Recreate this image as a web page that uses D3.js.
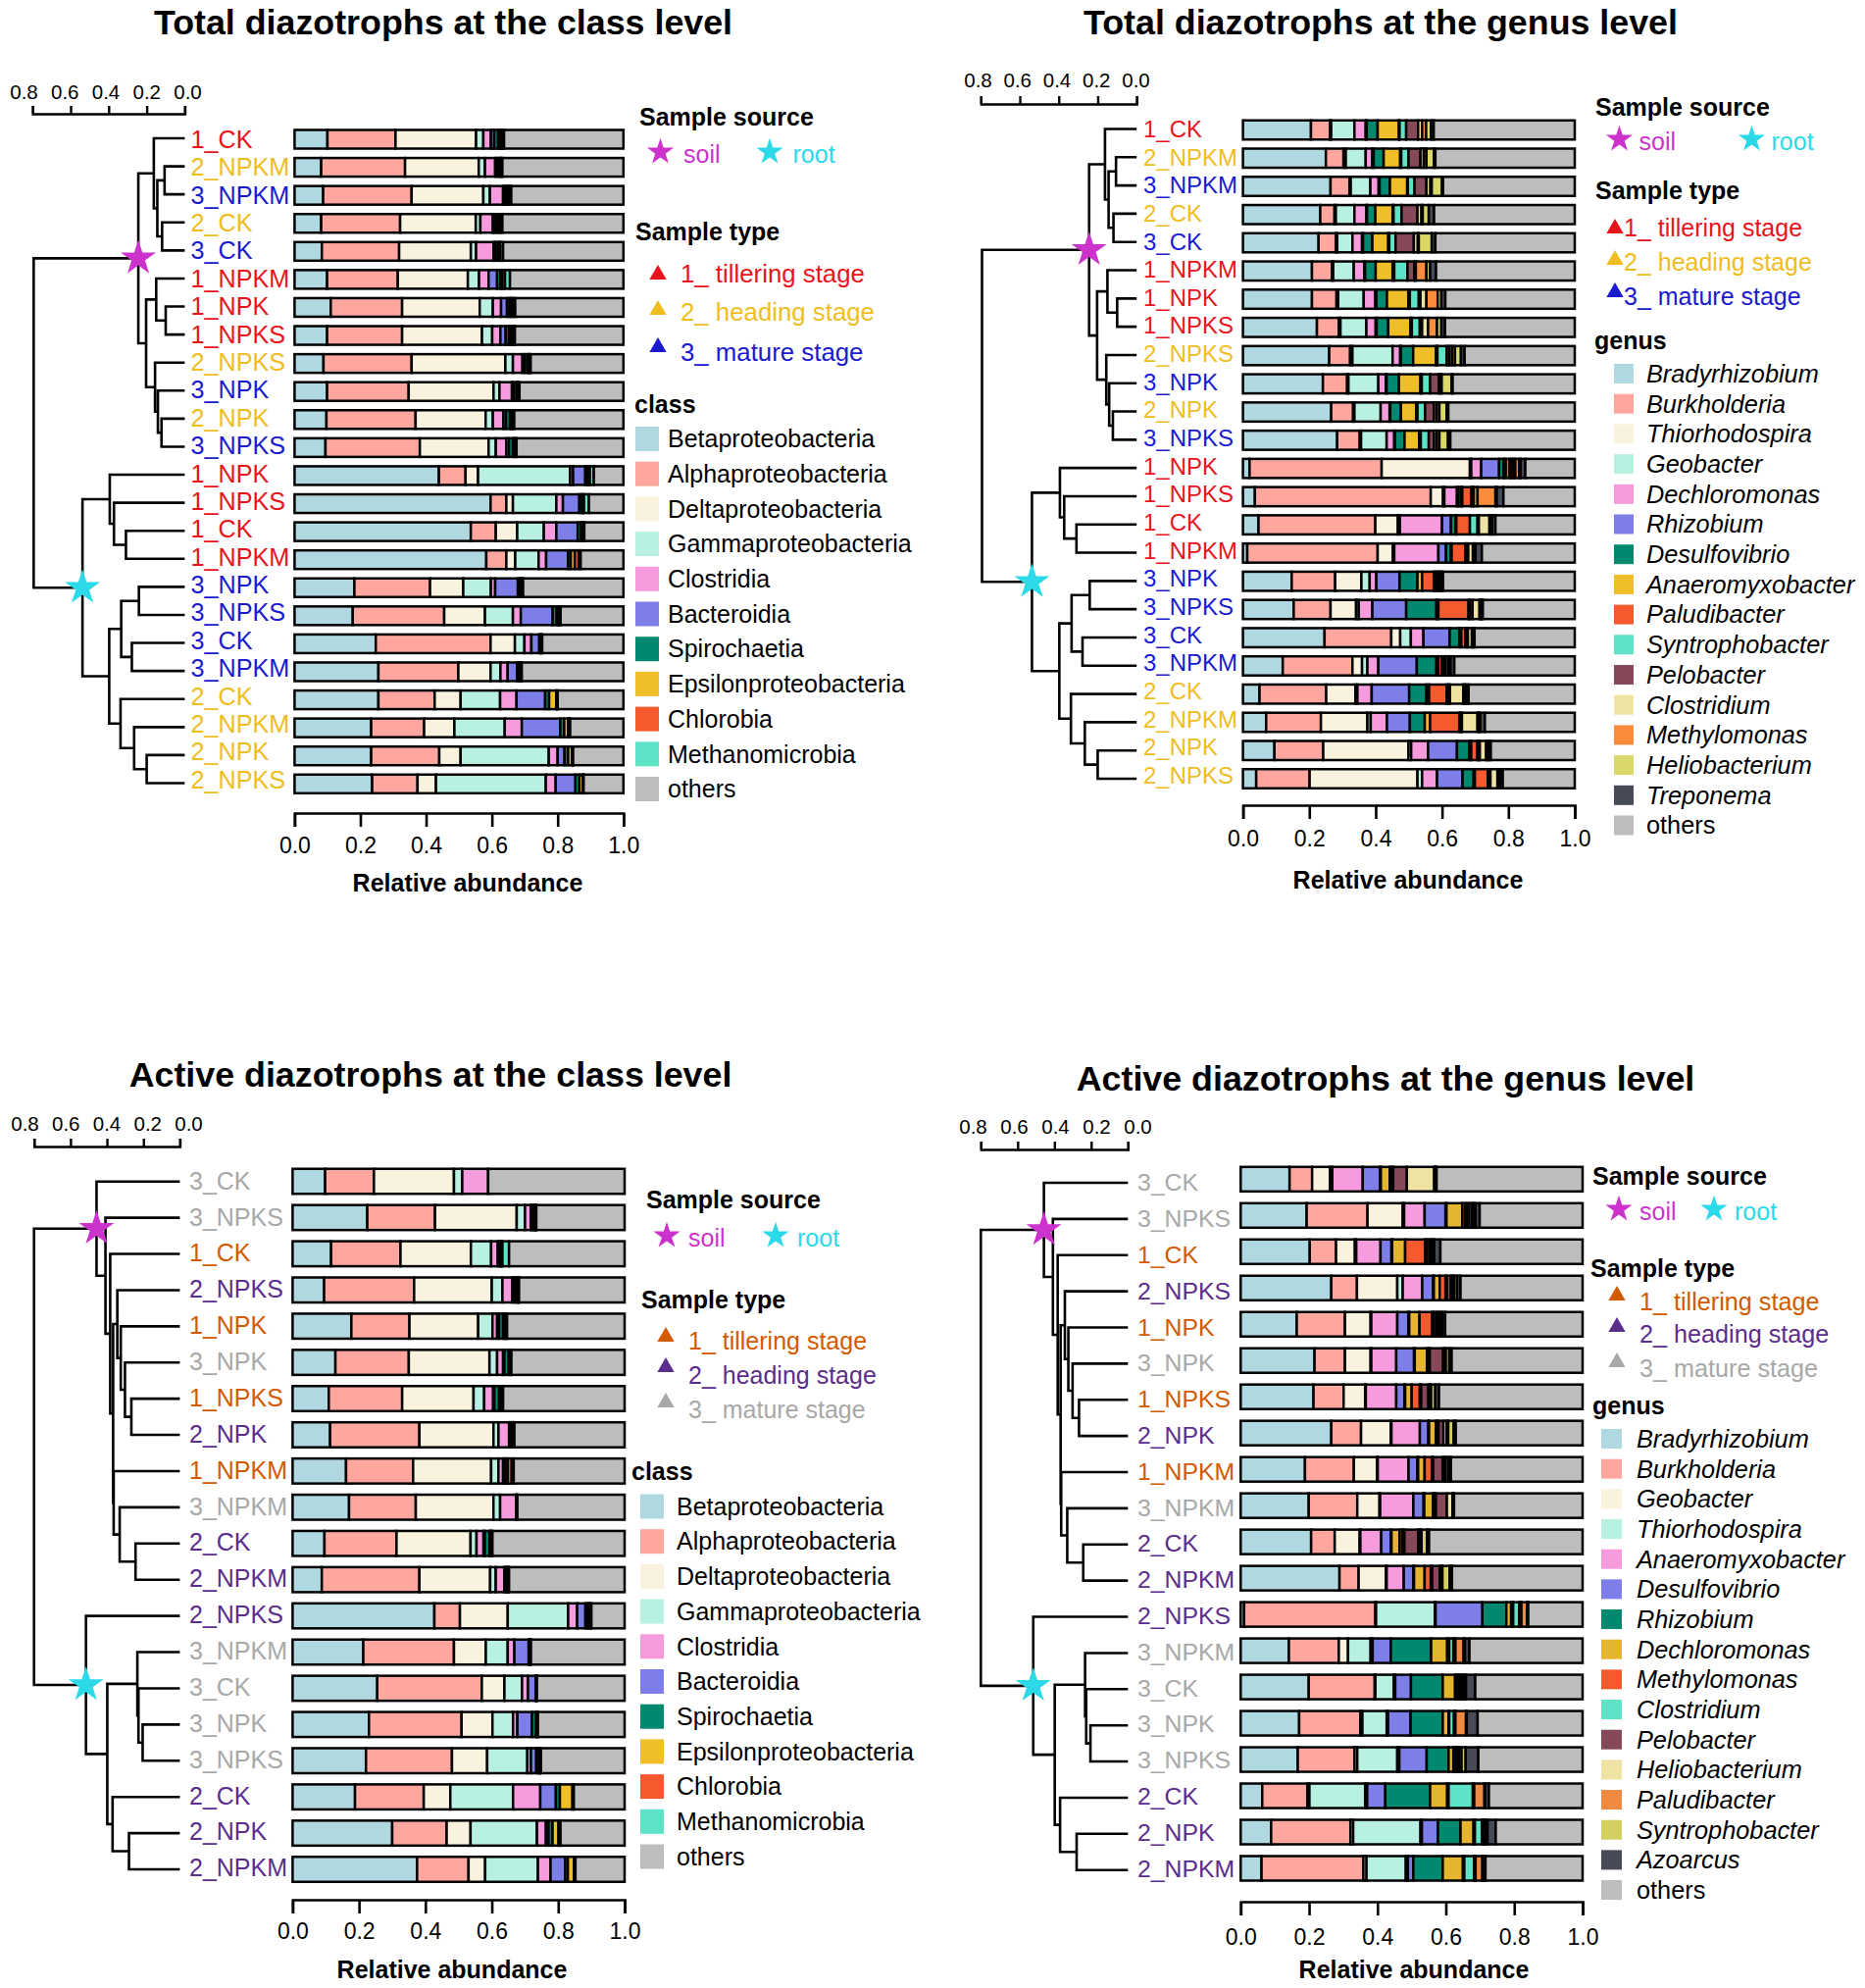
<!DOCTYPE html>
<html>
<head>
<meta charset="utf-8">
<script src="https://cdn.jsdelivr.net/npm/d3@7"></script>
<style>
  html, body { margin: 0; padding: 0; background: #fff; }
  text { font-family: "Liberation Sans", Arial, sans-serif; fill: #000; }
</style>
</head>
<body>
<svg id="chart" width="1902" height="2027"></svg>
<script>
// sample order, top to bottom
const totalSamples = ["1_CK","2_NPKM","3_NPKM","2_CK","3_CK","1_NPKM","1_NPK","1_NPKS","2_NPKS","3_NPK","2_NPK","3_NPKS",
  "1_NPK","1_NPKS","1_CK","1_NPKM","3_NPK","3_NPKS","3_CK","3_NPKM","2_CK","2_NPKM","2_NPK","2_NPKS"];
const activeSamples = ["3_CK","3_NPKS","1_CK","2_NPKS","1_NPK","3_NPK","1_NPKS","2_NPK","1_NPKM","3_NPKM","2_CK","2_NPKM",
  "2_NPKS","3_NPKM","3_CK","3_NPK","3_NPKS","2_CK","2_NPK","2_NPKM"];

const classNames = ["Betaproteobacteria","Alphaproteobacteria","Deltaproteobacteria","Gammaproteobacteria","Clostridia","Bacteroidia",
  "Spirochaetia","Epsilonproteobacteria","Chlorobia","Methanomicrobia","others"];
const totalGenusNames = ["Bradyrhizobium","Burkholderia","Thiorhodospira","Geobacter","Dechloromonas","Rhizobium","Desulfovibrio",
  "Anaeromyxobacter","Paludibacter","Syntrophobacter","Pelobacter","Clostridium","Methylomonas","Heliobacterium","Treponema","others"];
const activeGenusNames = ["Bradyrhizobium","Burkholderia","Geobacter","Thiorhodospira","Anaeromyxobacter","Desulfovibrio","Rhizobium",
  "Dechloromonas","Methylomonas","Clostridium","Pelobacter","Heliobacterium","Paludibacter","Syntrophobacter","Azoarcus","others"];

const classColors = ["#b0d8e0","#ffa69e","#f8f2de","#b8f0e2","#f59bde","#7e7ee8","#00896f","#f0be28","#f55a2f","#5ee3c7","#bdbdbd"];
const totalGenusColors = ["#b0d8e0","#ffa69e","#f8f2de","#b8f0e2","#f59bde","#7e7ee8","#00896f","#f0be28","#f55a2f","#5ee3c7",
  "#85495a","#efe3a4","#fa8c3c","#d9d868","#474b57","#bdbdbd"];
const activeGenusColors = ["#b0d8e0","#ffa69e","#f8f2de","#b8f0e2","#f59bde","#7e7ee8","#00896f","#e5b52f","#f55a2f","#5ee3c7",
  "#85495a","#efe3a4","#f08a42","#d2d060","#474b57","#bdbdbd"];

// one row per sample, one value per class / genus
const totalClassValues = [
  [.100,.207,.245,.022,.023,.010,.012,.006,.006,.006,.363],
  [.081,.255,.224,.019,.031,.006,.007,.003,.003,.003,.368],
  [.087,.269,.218,.020,.040,.006,.006,.005,.004,.004,.341],
  [.081,.240,.230,.014,.038,.006,.008,.005,.005,.005,.368],
  [.083,.235,.218,.016,.053,.005,.008,.004,.004,.008,.366],
  [.099,.215,.213,.034,.029,.026,.010,.006,.008,.015,.345],
  [.110,.217,.236,.040,.025,.018,.008,.005,.006,.006,.329],
  [.099,.228,.243,.031,.025,.016,.010,.005,.007,.006,.330],
  [.088,.268,.285,.023,.029,.007,.008,.004,.003,.003,.282],
  [.099,.248,.258,.018,.038,.006,.008,.003,.003,.003,.316],
  [.097,.271,.213,.022,.032,.008,.012,.005,.004,.004,.332],
  [.094,.287,.209,.022,.032,.008,.012,.004,.004,.003,.325],
  [.439,.081,.038,.280,.009,.037,.006,.004,.004,.012,.090],
  [.596,.048,.020,.132,.020,.050,.008,.003,.003,.015,.105],
  [.536,.076,.065,.081,.038,.065,.010,.004,.003,.003,.119],
  [.583,.061,.027,.071,.023,.067,.008,.012,.012,.006,.130],
  [.182,.230,.101,.084,.013,.069,.006,.004,.003,.003,.305],
  [.177,.278,.124,.085,.024,.097,.012,.006,.003,.003,.191],
  [.247,.349,.074,.029,.021,.024,.003,.002,.002,.002,.247],
  [.255,.243,.098,.030,.022,.029,.006,.003,.003,.002,.309],
  [.255,.171,.079,.120,.050,.087,.012,.022,.002,.002,.200],
  [.233,.161,.092,.153,.052,.117,.012,.012,.003,.003,.162],
  [.233,.207,.065,.268,.027,.021,.011,.012,.002,.001,.153],
  [.236,.138,.056,.334,.030,.060,.012,.010,.002,.001,.121]
];
const totalGenusValues = [
  [.205,.057,.004,.070,.034,.003,.033,.064,.002,.020,.036,.012,.012,.015,.008,.425],
  [.250,.053,.007,.060,.020,.004,.030,.050,.003,.022,.036,.010,.008,.023,.004,.420],
  [.264,.057,.004,.059,.025,.003,.031,.052,.002,.020,.036,.012,.004,.031,.003,.397],
  [.233,.043,.004,.056,.036,.002,.025,.052,.003,.024,.048,.012,.004,.018,.016,.424],
  [.228,.052,.004,.046,.029,.003,.028,.048,.003,.019,.055,.012,.003,.039,.011,.420],
  [.208,.060,.004,.062,.032,.002,.032,.051,.005,.040,.021,.004,.032,.011,.018,.418],
  [.208,.074,.005,.077,.035,.003,.032,.065,.004,.027,.005,.018,.034,.011,.012,.390],
  [.223,.066,.005,.078,.028,.003,.035,.067,.004,.024,.007,.018,.027,.013,.011,.391],
  [.260,.063,.007,.121,.023,.002,.037,.069,.004,.028,.008,.008,.009,.018,.011,.332],
  [.241,.073,.004,.090,.023,.002,.037,.065,.004,.025,.027,.004,.004,.030,.003,.368],
  [.266,.066,.004,.079,.027,.002,.032,.046,.004,.023,.027,.008,.008,.022,.005,.381],
  [.284,.068,.004,.077,.023,.002,.029,.044,.005,.024,.016,.008,.008,.026,.007,.375],
  [.020,.398,.266,.004,.030,.054,.014,.006,.012,.005,.006,.006,.012,.004,.014,.149],
  [.036,.530,.037,.004,.038,.004,.008,.004,.027,.004,.004,.011,.054,.004,.020,.215],
  [.047,.352,.068,.006,.127,.027,.014,.002,.041,.023,.004,.032,.004,.004,.010,.239],
  [.013,.393,.046,.004,.133,.023,.015,.002,.041,.003,.006,.014,.004,.004,.019,.280],
  [.147,.131,.079,.025,.020,.070,.054,.014,.036,.004,.006,.004,.004,.004,.005,.397],
  [.153,.111,.077,.008,.041,.102,.091,.006,.091,.004,.008,.021,.003,.003,.004,.277],
  [.246,.201,.027,.032,.038,.079,.029,.006,.012,.004,.004,.012,.002,.004,.002,.302],
  [.120,.210,.029,.016,.033,.116,.059,.006,.011,.004,.006,.008,.004,.004,.011,.363],
  [.050,.201,.088,.006,.043,.113,.052,.008,.053,.004,.006,.040,.004,.004,.008,.320],
  [.070,.165,.140,.010,.049,.069,.045,.016,.088,.004,.004,.047,.004,.004,.014,.271],
  [.095,.147,.257,.008,.051,.087,.037,.006,.018,.004,.004,.019,.004,.004,.006,.253],
  [.040,.161,.325,.014,.045,.077,.033,.004,.039,.004,.004,.021,.004,.004,.008,.217]
];
const activeClassValues = [
  [.098,.147,.241,.025,.078,0,0,0,0,0,.411],
  [.225,.204,.246,.025,.018,.004,.006,.002,.002,.002,.266],
  [.116,.209,.212,.061,.020,.004,.006,.002,.002,.020,.348],
  [.095,.271,.234,.032,.030,.006,.006,.004,.002,.002,.318],
  [.177,.175,.207,.043,.014,.006,.012,.004,.004,.004,.354],
  [.129,.221,.243,.023,.018,.004,.013,.004,.002,.002,.341],
  [.109,.221,.215,.032,.027,.004,.014,.004,.004,.004,.366],
  [.113,.269,.223,.015,.032,.004,.006,.002,.002,.002,.332],
  [.161,.202,.235,.022,.014,.004,.006,.004,.012,.006,.334],
  [.170,.201,.234,.020,.048,.001,.001,.001,.001,0,.323],
  [.096,.217,.223,.018,.021,.004,.014,.003,.003,.003,.398],
  [.088,.294,.213,.017,.026,.003,.005,.002,.002,.002,.348],
  [.427,.077,.144,.182,.027,.025,.006,.004,.004,.004,.100],
  [.213,.273,.096,.066,.020,.043,.003,.002,.001,.001,.282],
  [.255,.315,.068,.053,.018,.023,.001,.001,.001,.001,.264],
  [.230,.279,.093,.062,.013,.044,.012,.002,.002,.002,.261],
  [.221,.259,.106,.121,.011,.016,.008,.002,.002,.002,.252],
  [.188,.207,.080,.189,.082,.047,.012,.038,.002,.002,.153],
  [.300,.164,.072,.200,.027,.008,.012,.018,.004,.002,.193],
  [.375,.155,.050,.159,.038,.044,.008,.019,.002,.002,.148]
];
const activeGenusValues = [
  [.143,.066,.052,.007,.089,.051,.002,.026,.005,.005,.040,.080,.002,.002,.003,.427],
  [.193,.178,.103,.004,.060,.061,.003,.046,.008,.005,.008,.008,.004,.006,.012,.301],
  [.202,.077,.055,.004,.071,.032,.002,.038,.059,.004,.008,.006,.004,.004,.018,.416],
  [.265,.075,.118,.016,.057,.032,.002,.017,.017,.004,.012,.006,.004,.008,.010,.357],
  [.164,.141,.075,.002,.076,.033,.002,.030,.037,.004,.008,.006,.006,.006,.008,.402],
  [.216,.089,.075,.002,.073,.052,.002,.036,.004,.004,.039,.006,.002,.010,.007,.383],
  [.213,.088,.063,.002,.089,.024,.002,.019,.024,.004,.021,.006,.002,.012,.011,.420],
  [.265,.087,.087,.002,.083,.025,.002,.020,.004,.004,.014,.010,.004,.016,.006,.371],
  [.188,.143,.068,.002,.090,.026,.002,.019,.021,.004,.028,.005,.004,.008,.007,.385],
  [.199,.142,.065,.002,.097,.030,.002,.026,.004,.004,.032,.017,.001,.002,.001,.376],
  [.206,.069,.073,.002,.061,.028,.002,.024,.008,.006,.040,.006,.004,.016,.006,.449],
  [.289,.056,.080,.002,.050,.028,.002,.031,.018,.004,.022,.006,.002,.021,.007,.382],
  [.010,.384,.002,.172,.002,.137,.070,.014,.006,.018,.003,.003,.017,.001,.002,.159],
  [.141,.146,.027,.066,.006,.053,.118,.047,.006,.012,.002,.004,.024,.004,.013,.331],
  [.199,.193,.002,.054,.004,.046,.093,.036,.004,.006,.004,.006,.006,.006,.027,.314],
  [.171,.179,.006,.071,.004,.066,.094,.017,.002,.014,.002,.002,.031,.002,.032,.307],
  [.167,.166,.008,.117,.006,.080,.064,.014,.004,.004,.004,.004,.008,.012,.037,.305],
  [.063,.132,.006,.163,.006,.053,.131,.050,.004,.071,.002,.002,.030,.002,.011,.274],
  [.089,.232,.008,.197,.004,.047,.066,.038,.004,.021,.004,.006,.002,.004,.024,.254],
  [.061,.298,.009,.115,.006,.016,.086,.059,.004,.029,.002,.002,.020,.002,.007,.284]
];

// dendrograms: [height, child, child], a bare number is a row index
const totalTree = [.794,
  [.244,
    [.1625, 0, [.144, [.106, 1, 2], [.119, 3, 4]]],
    [.203, [.15, 5, [.1, 6, 7]], [.156, 8, [.141, 9, [.122, 10, 11]]]]],
  [.5375,
    [.394, 12, [.372, 13, [.309, 14, 15]]],
    [.397, [.334, [.241, 16, 17], [.278, 18, 19]], [.3375, 20, [.266, 21, [.2, 22, 23]]]]]
];
const activeTree = [.8,
  [.457, 0,
    [.408, 1,
      [.382, 2,
        [.366,
          [.343, 3, [.324, 4, [.301, 5, [.266, 6, 7]]]],
          [.363, 8, [.33, 9, [.243, 10, 11]]]]]]],
  [.515, 12,
    [.398,
      [.233, 13, [.227, 14, [.204, 15, 16]]],
      [.369, 17, [.279, 18, 19]]]]
];

const stageTexts = ["1_ tillering stage","2_ heading stage","3_ mature stage"];
const xTicks = [0, .2, .4, .6, .8, 1];
const treeTicks = [.8, .6, .4, .2, 0];
const soilColor = "#cc33cc", rootColor = "#2bd9e9";
const totalStageColors = ["#e8141c","#efbe1e","#1a1acf"];
const activeStageColors = ["#d25a00","#5b2d8c","#a8a8a8"];

const svg = d3.select("#chart");

function drawPanel(p) {
  const g = svg.append("g");

  g.append("text").attr("x", p.titleX).attr("y", p.titleY)
    .attr("text-anchor", "middle").attr("font-weight", "bold").attr("font-size", 35.8).text(p.title);

  // stacked bars
  const x = d3.scaleLinear().domain([0, 1]).range(p.barX);
  const rowsBar = d3.scalePoint().domain(d3.range(p.samples.length)).range(p.barY);
  const rowsTree = d3.scalePoint().domain(d3.range(p.samples.length)).range(p.treeY);
  const rowsLabel = d3.scalePoint().domain(d3.range(p.samples.length)).range(p.labelY);
  const rows = p.values.map(v => Object.fromEntries(p.names.map((n, i) => [n, v[i]])));
  const series = d3.stack().keys(p.names)(rows);

  g.selectAll(".layer").data(series).enter().append("g")
    .attr("fill", (d, i) => p.colors[i])
    .selectAll("rect").data(d => d).enter().append("rect")
    .attr("x", d => x(d[0]))
    .attr("width", d => x(d[1]) - x(d[0]))
    .attr("y", (d, i) => rowsBar(i) - p.barH / 2)
    .attr("height", p.barH)
    .attr("stroke", "#000").attr("stroke-width", 2.5);

  // bottom axis
  const axis = g.append("g").attr("transform", "translate(0," + p.axisY + ")")
    .call(d3.axisBottom(x).tickValues(xTicks).tickFormat(d3.format(".1f")).tickSize(14).tickPadding(p.axisPad));
  axis.selectAll("path,line").attr("stroke", "#000").attr("stroke-width", 2.6);
  axis.selectAll("text").attr("font-size", 23);
  g.append("text").attr("x", p.xTitleX).attr("y", p.xTitleY).attr("dy", ".35em")
    .attr("text-anchor", "middle").attr("font-weight", "bold").attr("font-size", 25).text("Relative abundance");

  // dendrogram, its scale labels sit a bit wider than its ticks
  const xTree = d3.scaleLinear().domain([.8, 0]).range(p.treeX);
  const xTreeLabel = d3.scaleLinear().domain([.8, 0]).range(p.scaleLabelX);
  const scale = g.append("g").attr("transform", "translate(0," + p.scaleY + ")")
    .call(d3.axisTop(xTree).tickValues(treeTicks).tickFormat(d3.format(".1f")).tickSize(8).tickPadding(p.scalePad));
  scale.selectAll("path,line").attr("stroke", "#000").attr("stroke-width", 2.4);
  scale.selectAll("text").attr("font-size", 20.5).attr("x", d => xTreeLabel(d) - xTree(d));

  const path = d3.path();
  function place(node) {
    if (typeof node === "number") return { x: xTree(0), y: rowsTree(node) };
    const kids = node.slice(1).map(place);
    const nx = xTree(node[0]);
    const ny = d3.mean(kids, k => k.y);
    path.moveTo(kids[0].x, kids[0].y);
    path.lineTo(nx, kids[0].y);
    path.lineTo(nx, kids[1].y);
    path.lineTo(kids[1].x, kids[1].y);
    return { x: nx, y: ny, kids };
  }
  const root = place(p.tree);
  g.append("path").attr("d", path.toString()).attr("fill", "none").attr("stroke", "#000").attr("stroke-width", 2.6);

  const star = d3.symbol().type(d3.symbolStar);
  [soilColor, rootColor].forEach((c, i) => {
    g.append("path").attr("d", star.size(400)())
      .attr("transform", "translate(" + root.kids[i].x + "," + root.kids[i].y + ")").attr("fill", c);
  });

  g.selectAll(".leaf").data(p.samples).enter().append("text")
    .attr("x", p.labelX).attr("y", (d, i) => rowsLabel(i)).attr("dy", ".35em")
    .attr("font-size", p.labelSize)
    .style("fill", d => p.stageColors[+d[0] - 1])
    .text(d => d);

  // legends
  const l = p.legend;
  const heading = (txt, lx, ly) => g.append("text").attr("x", lx).attr("y", ly).attr("dy", ".35em")
    .attr("font-weight", "bold").attr("font-size", 25).text(txt);

  heading("Sample source", l.sourceX, l.sourceY);
  [["soil", soilColor, l.soilX], ["root", rootColor, l.rootX]].forEach(([txt, c, sx]) => {
    g.append("path").attr("d", star.size(230)()).attr("fill", c)
      .attr("transform", "translate(" + sx + "," + l.starY + ")");
    g.append("text").attr("x", sx + l.starGap).attr("y", l.starY + 2).attr("dy", ".35em")
      .attr("font-size", 25).style("fill", c).text(txt);
  });

  heading("Sample type", l.typeX, l.typeY);
  stageTexts.forEach((txt, i) => {
    g.append("path").attr("d", d3.symbol().type(d3.symbolTriangle).size(130)())
      .attr("fill", p.stageColors[i])
      .attr("transform", "translate(" + l.triX + "," + l.triY[i] + ")");
    g.append("text").attr("x", l.stageX).attr("y", l.stageY[i]).attr("dy", ".35em")
      .attr("font-size", l.stageSize).style("fill", p.stageColors[i]).text(txt);
  });

  heading(p.levelName, l.levelX, l.levelY);
  const item = g.selectAll(".item").data(p.names).enter().append("g")
    .attr("transform", (d, i) => "translate(" + l.swX + "," + (l.swY + i * l.swStep) + ")");
  item.append("rect").attr("y", -l.swH / 2).attr("width", l.swW).attr("height", l.swH)
    .attr("fill", (d, i) => p.colors[i]);
  item.append("text").attr("x", l.textX - l.swX).attr("dy", ".35em")
    .attr("font-size", p.legendSize)
    .attr("font-style", d => (p.italic && d !== "others") ? "italic" : "normal")
    .text(d => d);
}

drawPanel({
  title: "Total diazotrophs at the class level", titleX: 452, titleY: 35,
  samples: totalSamples, names: classNames, colors: classColors, values: totalClassValues, tree: totalTree,
  stageColors: totalStageColors, levelName: "class", italic: false, legendSize: 25,
  barX: [300.4, 635.8], barY: [142, 799.3], barH: 19,
  axisY: 829, axisPad: 10.5, xTitleX: 477, xTitleY: 900,
  treeX: [33.2, 188.4], treeY: [141, 798.5], scaleY: 116, scaleLabelX: [24, 191], scalePad: 7,
  labelX: 194.5, labelY: [142, 795], labelSize: 25.2,
  legend: {
    sourceX: 652, sourceY: 119, soilX: 673.5, rootX: 785, starY: 155, starGap: 23.5,
    typeX: 648, typeY: 236, triX: 671, triY: [280, 316, 354], stageX: 694, stageY: [279, 318, 359], stageSize: 25.8,
    levelX: 647, levelY: 412, swX: 648, swY: 447.5, swStep: 35.7, swW: 24, swH: 25, textX: 681
  }
});

drawPanel({
  title: "Total diazotrophs at the genus level", titleX: 1408, titleY: 35,
  samples: totalSamples, names: totalGenusNames, colors: totalGenusColors, values: totalGenusValues, tree: totalTree,
  stageColors: totalStageColors, levelName: "genus", italic: true, legendSize: 25.3,
  barX: [1267.6, 1606], barY: [132.5, 794], barH: 19.5,
  axisY: 821, axisPad: 11.5, xTitleX: 1436, xTitleY: 897,
  treeX: [1000.3, 1159.2], treeY: [131.5, 794], scaleY: 106, scaleLabelX: [997, 1158], scalePad: 9.5,
  labelX: 1166, labelY: [131.5, 790.5], labelSize: 24,
  legend: {
    sourceX: 1627, sourceY: 109, soilX: 1651.5, rootX: 1786.5, starY: 142, starGap: 20,
    typeX: 1627, typeY: 194, triX: 1647, triY: [233, 265, 298], stageX: 1656, stageY: [232, 267, 302], stageSize: 25,
    levelX: 1626, levelY: 347, swX: 1646, swY: 381, swStep: 30.7, swW: 20, swH: 20, textX: 1679
  }
});

drawPanel({
  title: "Active diazotrophs at the class level", titleX: 439, titleY: 1108,
  samples: activeSamples, names: classNames, colors: classColors, values: activeClassValues, tree: activeTree,
  stageColors: activeStageColors, levelName: "class", italic: false, legendSize: 25,
  barX: [298.4, 637], barY: [1204.5, 1906], barH: 25.5,
  axisY: 1937, axisPad: 10, xTitleX: 461, xTitleY: 2008,
  treeX: [34.7, 183.4], treeY: [1204.7, 1906], scaleY: 1169, scaleLabelX: [25, 192], scalePad: 8,
  labelX: 193, labelY: [1204, 1904.5], labelSize: 25,
  legend: {
    sourceX: 659, sourceY: 1223, soilX: 680, rootX: 791, starY: 1260, starGap: 22,
    typeX: 654, typeY: 1325, triX: 679, triY: [1363, 1394, 1430], stageX: 702, stageY: [1367, 1402, 1437], stageSize: 25,
    levelX: 644, levelY: 1500, swX: 653, swY: 1536, swStep: 35.7, swW: 24, swH: 25, textX: 690
  }
});

drawPanel({
  title: "Active diazotrophs at the genus level", titleX: 1413, titleY: 1112,
  samples: activeSamples, names: activeGenusNames, colors: activeGenusColors, values: activeGenusValues, tree: activeTree,
  stageColors: activeStageColors, levelName: "genus", italic: true, legendSize: 25.3,
  barX: [1265.3, 1614], barY: [1202.3, 1905], barH: 25,
  axisY: 1939, axisPad: 14, xTitleX: 1442, xTitleY: 2008,
  treeX: [1000.3, 1150.3], treeY: [1206, 1906.7], scaleY: 1172, scaleLabelX: [992, 1160], scalePad: 8,
  labelX: 1160, labelY: [1205.7, 1905], labelSize: 24.8,
  legend: {
    sourceX: 1624, sourceY: 1199, soilX: 1651, rootX: 1748, starY: 1233, starGap: 21,
    typeX: 1622, typeY: 1293, triX: 1649, triY: [1321, 1353, 1389], stageX: 1672, stageY: [1327, 1360, 1395], stageSize: 25.2,
    levelX: 1624, levelY: 1433, swX: 1633, swY: 1467, swStep: 30.67, swW: 21, swH: 20, textX: 1669
  }
});
</script>
</body>
</html>
